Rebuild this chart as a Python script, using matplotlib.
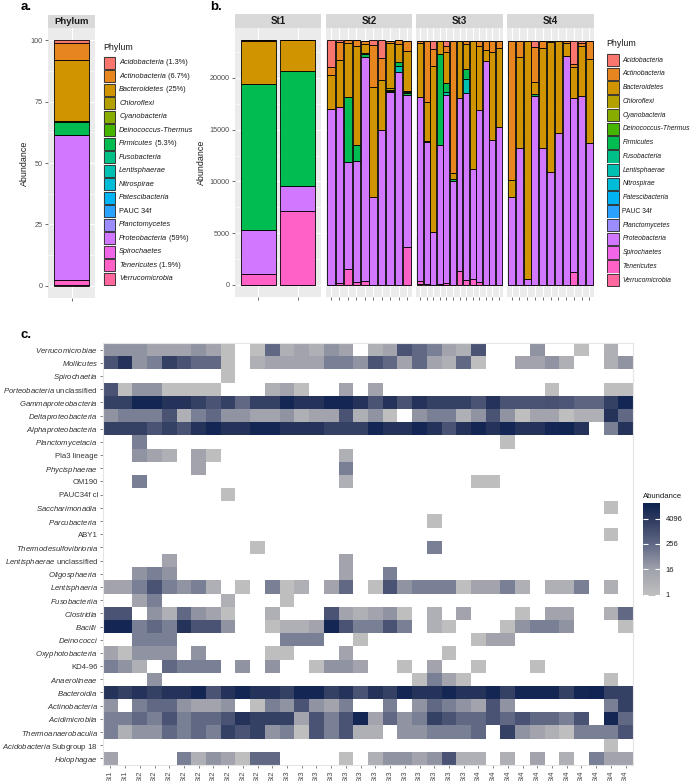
import numpy as np
import matplotlib
matplotlib.use('Agg')
import matplotlib.pyplot as plt
from matplotlib.colors import LogNorm, LinearSegmentedColormap
from matplotlib.patches import Rectangle

plt.rcParams['font.family'] = ['Liberation Sans', 'DejaVu Sans']
plt.rcParams['mathtext.fontset'] = 'custom'
plt.rcParams['mathtext.it'] = 'Liberation Sans:italic'
plt.rcParams['mathtext.rm'] = 'Liberation Sans'
plt.rcParams['mathtext.bf'] = 'Liberation Sans:bold'

W, H = 694, 781

# ---------------- data ----------------
phyla = ['Acidobacteria', 'Actinobacteria', 'Bacteroidetes', 'Chloroflexi', 'Cyanobacteria',
         'Deinococcus-Thermus', 'Firmicutes', 'Fusobacteria', 'Lentisphaerae', 'Nitrospirae',
         'Patescibacteria', 'PAUC 34f', 'Planctomycetes', 'Proteobacteria', 'Spirochaetes',
         'Tenericutes', 'Verrucomicrobia']

# panel a: mean relative abundance (%)
pct_a = [1.3, 6.7, 25, 0.05, 0.02, 0.1, 5.3, 0.05, 0.15, 0.02, 0.02, 0.02, 0.1, 59, 0.02, 1.9, 0.3]
pct_text = {'Acidobacteria': '1.3%', 'Actinobacteria': '6.7%', 'Bacteroidetes': '25%',
            'Firmicutes': '5.3%', 'Proteobacteria': '59%', 'Tenericutes': '1.9%'}

# panel b: reads per sample (St1 x2, St2 x10, St3 x13, St4 x11)
stations = ['St1', 'St2', 'St3', 'St4']
station_sizes = [2, 10, 13, 11]

acido_b = [0, 0, 2572, 160, 0, 0, 0, 483, 1708, 0, 0, 0,
           0, 0, 837, 0, 483, 0, 0, 0, 0, 0, 0, 0, 0,
           0, 0, 0, 644, 0, 0, 0, 0, 2286, 193, 0]
actino_b = [100, 0, 745, 1780, 260, 580, 322, 4030, 2095, 258, 354, 967,
            190, 5893, 1578, 0, 644, 12751, 0, 322, 0, 515, 902, 1127, 741,
            13460, 1610, 0, 3381, 741, 161, 0, 193, 290, 290, 1771]
bactero_b = [4090, 2934, 3317, 4513, 5254, 9573, 838, 10637, 4900, 4352, 1740, 3868,
             5280, 3703, 16036, 1320, 2930, 644, 5571, 2447, 12429, 6182, 1030, 8469, 7631,
             1610, 8791, 23055, 1127, 9660, 12558, 8952, 1288, 2995, 4830, 8082]
chloro_b = [0, 0, 0, 0, 0, 0, 0, 0, 0, 150, 0, 100,
            0, 0, 0, 0, 0, 0, 0, 0, 0, 0, 0, 0, 0,
            0, 0, 0, 0, 0, 0, 0, 0, 0, 0, 0]
deino_b = [0, 0, 0, 0, 0, 0, 150, 0, 0, 100, 0, 100,
           0, 0, 0, 0, 0, 0, 0, 0, 0, 0, 0, 0, 0,
           0, 0, 0, 0, 0, 0, 0, 0, 0, 0, 0]
firmi_b = [14120, 11189, 0, 0, 6254, 1483, 290, 0, 0, 150, 354, 200,
           0, 100, 0, 8758, 869, 161, 0, 966, 0, 0, 0, 0, 0,
           0, 0, 0, 161, 0, 0, 0, 0, 0, 0, 0]
lenti_b = [0, 0, 0, 0, 0, 0, 0, 0, 0, 0, 612, 0,
           0, 0, 0, 0, 322, 0, 0, 1352, 0, 0, 0, 0, 0,
           0, 0, 0, 0, 0, 0, 0, 0, 0, 0, 0]
proteo_b = [4285, 2350, 16990, 17020, 10347, 11765, 21693, 8478, 14923, 18598, 20565, 14666,
            17807, 13750, 5152, 13427, 18193, 10046, 16744, 18096, 10626, 16680, 21671, 14007, 15231,
            8533, 13202, 547, 18290, 13202, 10884, 14651, 22121, 16841, 18290, 13749]
teneri_b = [1035, 7157, 0, 160, 1515, 225, 322, 0, 0, 0, 0, 3643,
            200, 0, 0, 100, 160, 0, 1288, 419, 547, 225, 0, 0, 0,
            0, 0, 0, 0, 0, 0, 0, 0, 1191, 0, 0]
verru_b = [0, 0, 0, 0, 0, 0, 0, 0, 0, 0, 0, 0,
           120, 100, 0, 0, 0, 0, 0, 0, 0, 0, 0, 0, 0,
           0, 0, 0, 0, 0, 0, 0, 0, 0, 0, 0]

# panel c: class-level abundance per sample
heat_samples = ['St1'] * 2 + ['St2'] * 10 + ['St3'] * 13 + ['St4'] * 11
heat_rows = [r'$\mathit{Verrucomicrobiae}$', r'$\mathit{Mollicutes}$', r'$\mathit{Spirochaetia}$',
             r'$\mathit{Porteobacteria}$ unclassified', r'$\mathit{Gammaproteobacteria}$',
             r'$\mathit{Deltaproteobacteria}$', r'$\mathit{Alphaproteobacteria}$',
             r'$\mathit{Planctomycetacia}$', 'Pla3 lineage', r'$\mathit{Phycisphaerae}$', 'OM190',
             'PAUC34f cl', r'$\mathit{Saccharimonadia}$', r'$\mathit{Parcubacteria}$', 'ABY1',
             r'$\mathit{Thermodesulfovibrionia}$', r'$\mathit{Lentisphaerae}$ unclassified',
             r'$\mathit{Oligosphaeria}$', r'$\mathit{Lentisphaeria}$', r'$\mathit{Fusobacteriia}$',
             r'$\mathit{Clostridia}$', r'$\mathit{Bacilli}$', r'$\mathit{Deinococci}$',
             r'$\mathit{Oxyphotobacteria}$', 'KD4-96', r'$\mathit{Anaerolineae}$',
             r'$\mathit{Bacteroidia}$', r'$\mathit{Actinobacteria}$', r'$\mathit{Acidimicrobiia}$',
             r'$\mathit{Thermoanaerobaculia}$', r'$\mathit{Acidobacteria}$ Subgroup 18',
             r'$\mathit{Holophagae}$']
heat_values = [
    [30, 30, 30, 12, 12, 12, 30, 12, 1, 0, 1, 250, 4, 12, 4, 30, 12, 0, 4, 12, 800, 250, 80, 12, 4, 800, 0, 0, 0, 30, 0, 0, 1, 0, 4, 0],
    [800, 6000, 30, 80, 2500, 800, 250, 250, 1, 0, 4, 12, 12, 12, 12, 80, 80, 30, 800, 250, 12, 250, 12, 4, 250, 1, 0, 0, 12, 12, 30, 4, 0, 0, 4, 30],
    [0, 0, 0, 0, 0, 0, 0, 0, 1, 0, 0, 0, 0, 0, 0, 0, 0, 0, 0, 0, 0, 0, 0, 0, 0, 0, 0, 0, 0, 0, 0, 0, 0, 0, 0, 0],
    [800, 1, 30, 30, 1, 1, 1, 1, 0, 0, 0, 4, 12, 1, 0, 0, 12, 0, 12, 0, 0, 0, 0, 0, 0, 0, 0, 0, 0, 0, 1, 0, 0, 0, 1, 1],
    [2500, 2500, 14000, 14000, 6000, 6000, 2500, 800, 2500, 250, 2500, 2500, 14000, 6000, 6000, 14000, 14000, 6000, 800, 6000, 800, 6000, 2500, 2500, 2500, 800, 6000, 800, 800, 800, 900, 700, 300, 300, 2500, 14000],
    [30, 80, 80, 80, 800, 4, 80, 250, 30, 30, 12, 12, 30, 4, 12, 12, 800, 4, 30, 1, 0, 30, 80, 80, 4, 30, 800, 30, 1, 12, 12, 1, 4, 4, 6000, 250],
    [2500, 2500, 2500, 800, 2500, 800, 6000, 14000, 6000, 6000, 14000, 14000, 6000, 6000, 6000, 2500, 2500, 2500, 14000, 6000, 6000, 14000, 6000, 800, 6000, 14000, 6000, 14000, 6000, 6000, 14000, 16000, 6000, 0, 80, 6000],
    [0, 0, 80, 0, 0, 0, 0, 0, 0, 0, 0, 0, 0, 0, 0, 0, 0, 0, 0, 0, 0, 0, 0, 0, 0, 0, 0, 1, 0, 0, 0, 0, 0, 0, 0, 0],
    [0, 0, 30, 12, 4, 0, 12, 1, 0, 0, 0, 0, 0, 0, 0, 0, 4, 0, 0, 0, 0, 0, 0, 0, 0, 0, 0, 0, 0, 0, 0, 0, 0, 0, 0, 0],
    [0, 0, 0, 0, 0, 0, 12, 0, 0, 0, 0, 0, 0, 0, 0, 0, 80, 0, 0, 0, 0, 0, 0, 0, 0, 0, 0, 0, 0, 0, 0, 0, 0, 0, 0, 0],
    [0, 0, 80, 0, 0, 0, 0, 0, 0, 0, 0, 0, 0, 0, 0, 0, 4, 0, 0, 0, 0, 0, 0, 0, 0, 1, 1, 0, 0, 0, 0, 0, 0, 0, 0, 0],
    [0, 0, 0, 0, 0, 0, 0, 0, 1, 0, 0, 0, 0, 0, 0, 0, 0, 0, 0, 0, 0, 0, 0, 0, 0, 0, 0, 0, 0, 0, 0, 0, 0, 0, 0, 0],
    [0, 0, 0, 0, 0, 0, 0, 0, 0, 0, 0, 0, 0, 0, 0, 0, 0, 0, 0, 0, 0, 0, 0, 0, 0, 0, 0, 0, 0, 0, 0, 0, 0, 0, 1, 0],
    [0, 0, 0, 0, 0, 0, 0, 0, 0, 0, 0, 0, 0, 0, 0, 0, 0, 0, 0, 0, 0, 0, 1, 0, 0, 0, 0, 0, 0, 0, 0, 0, 0, 0, 0, 0],
    [0, 0, 0, 0, 0, 0, 0, 0, 0, 0, 0, 0, 0, 0, 0, 0, 0, 0, 0, 0, 0, 0, 0, 0, 0, 0, 0, 0, 0, 0, 0, 0, 0, 0, 1, 0],
    [0, 0, 0, 0, 0, 0, 0, 0, 0, 0, 1, 0, 0, 0, 0, 0, 0, 0, 0, 0, 0, 0, 80, 0, 0, 0, 0, 0, 0, 0, 0, 0, 0, 0, 0, 0],
    [0, 0, 0, 0, 12, 0, 0, 0, 0, 0, 0, 0, 0, 0, 0, 0, 12, 0, 0, 0, 0, 0, 0, 0, 0, 0, 0, 0, 0, 0, 0, 0, 0, 0, 0, 0],
    [0, 0, 30, 80, 30, 0, 0, 0, 0, 0, 0, 0, 0, 0, 0, 0, 12, 0, 0, 80, 0, 0, 0, 0, 0, 0, 0, 0, 0, 0, 0, 0, 0, 0, 0, 0],
    [12, 12, 80, 800, 80, 30, 80, 4, 0, 1, 0, 80, 1, 4, 0, 12, 250, 0, 1, 800, 30, 80, 80, 80, 1, 12, 12, 80, 4, 0, 4, 4, 80, 0, 4, 0],
    [0, 0, 12, 80, 0, 0, 0, 0, 4, 0, 0, 0, 1, 0, 0, 0, 0, 0, 0, 0, 0, 0, 0, 0, 0, 0, 0, 0, 0, 0, 0, 0, 0, 0, 0, 0],
    [800, 800, 0, 30, 4, 250, 30, 12, 1, 0, 0, 4, 0, 0, 0, 800, 12, 4, 12, 30, 1, 0, 4, 0, 12, 0, 0, 0, 1, 0, 12, 12, 0, 0, 4, 250],
    [14000, 14000, 80, 250, 80, 6000, 800, 800, 30, 0, 0, 1, 4, 4, 12, 14000, 800, 80, 80, 800, 80, 0, 4, 1, 0, 0, 0, 1, 30, 80, 80, 30, 0, 0, 0, 1],
    [0, 0, 80, 80, 80, 0, 0, 0, 0, 0, 0, 0, 80, 80, 80, 0, 0, 1, 0, 0, 0, 0, 0, 0, 0, 1, 12, 12, 0, 0, 0, 0, 0, 0, 0, 0],
    [12, 1, 30, 30, 30, 0, 30, 0, 0, 0, 0, 1, 1, 0, 0, 0, 12, 0, 0, 0, 0, 0, 0, 1, 0, 0, 0, 0, 0, 0, 0, 0, 0, 0, 0, 0],
    [80, 30, 4, 0, 250, 80, 80, 80, 0, 30, 0, 30, 0, 0, 1, 30, 30, 12, 0, 0, 1, 0, 12, 0, 0, 1, 0, 0, 0, 1, 0, 0, 0, 0, 0, 0],
    [0, 0, 0, 30, 0, 0, 0, 0, 0, 0, 0, 0, 0, 0, 0, 0, 0, 0, 0, 0, 0, 1, 80, 12, 1, 0, 0, 0, 0, 0, 0, 0, 0, 0, 1, 0],
    [6000, 2500, 6000, 2500, 6000, 6000, 14000, 800, 6000, 14000, 6000, 6000, 2500, 14000, 14000, 2500, 6000, 800, 6000, 2500, 14000, 6000, 6000, 14000, 6000, 6000, 14000, 2500, 14000, 14000, 14000, 2500, 14000, 18000, 2500, 2500],
    [30, 0, 80, 250, 250, 30, 12, 12, 30, 0, 1, 80, 30, 800, 30, 12, 80, 0, 0, 80, 0, 30, 250, 80, 30, 12, 800, 30, 0, 0, 0, 0, 0, 0, 80, 2500],
    [80, 80, 250, 80, 800, 80, 250, 250, 800, 6000, 2500, 2500, 2500, 12, 800, 80, 800, 14000, 12, 250, 30, 80, 2500, 800, 250, 250, 800, 250, 800, 250, 250, 80, 800, 0, 14000, 250],
    [80, 4, 30, 30, 250, 80, 250, 80, 2500, 800, 2500, 30, 80, 1, 800, 80, 800, 4, 4, 0, 30, 30, 80, 80, 80, 250, 0, 2500, 30, 12, 4, 1, 80, 80, 80, 800],
    [0, 0, 0, 0, 0, 0, 0, 0, 0, 0, 0, 0, 0, 0, 0, 0, 0, 0, 0, 0, 0, 0, 0, 0, 0, 0, 0, 0, 0, 0, 0, 0, 0, 0, 1, 0],
    [12, 0, 0, 0, 0, 80, 4, 30, 12, 1, 250, 250, 0, 0, 0, 0, 1, 0, 4, 30, 30, 12, 30, 800, 4, 4, 0, 4, 0, 12, 0, 4, 0, 80, 12, 12],
]


# ---------------- helpers ----------------
def hue_pal(n, c=100, l=65):
    # ggplot2 default discrete palette (hcl, polar LUV)
    out = []
    for i in range(n):
        h = np.deg2rad(15 + 360 * i / n)
        U, V = c * np.cos(h), c * np.sin(h)
        Y = 100 * ((l + 16) / 116) ** 3
        u = U / (13 * l) + 0.1978398
        v = V / (13 * l) + 0.4683363
        X = 9 * Y * u / (4 * v)
        Z = -X / 3 - 5 * Y + 3 * Y / v
        rgb = np.array([3.240479 * X - 1.537150 * Y - 0.498535 * Z,
                        -0.969256 * X + 1.875992 * Y + 0.041556 * Z,
                        0.055648 * X - 0.204043 * Y + 1.057311 * Z]) / 100
        rgb = np.where(rgb > 0.00304, 1.055 * np.abs(rgb) ** (1 / 2.4) - 0.055, 12.92 * rgb)
        out.append(tuple(np.clip(rgb, 0, 1)))
    return out


def px_axes(l, t, r, b, **kw):
    return fig.add_axes([l / W, 1 - b / H, (r - l) / W, (b - t) / H], **kw)


def gg_panel(ax, major, minor, xs):
    ax.set_facecolor('#EBEBEB')
    for y in minor:
        ax.axhline(y, color='white', lw=0.4, zorder=0.5)
    for y in major:
        ax.axhline(y, color='white', lw=0.8, zorder=0.5)
    for x in xs:
        ax.axvline(x, color='white', lw=0.8, zorder=0.5)
    for s in ax.spines.values():
        s.set_visible(False)
    ax.tick_params(axis='both', length=2.2, width=0.5, color='#333333',
                   labelsize=5.2, labelcolor='#4D4D4D', pad=1.5)


def strip(l, t, r, b, label, size):
    sa = px_axes(l, t, r, b)
    sa.set_facecolor('#D9D9D9')
    sa.set_xticks([])
    sa.set_yticks([])
    for s in sa.spines.values():
        s.set_visible(False)
    sa.text(0.5, 0.5, label, ha='center', va='center', fontsize=size,
            fontweight='bold', color='#1A1A1A', transform=sa.transAxes)


def legend(x0, y_title, y0, kw, kh, names, pcts, size):
    ov.text(x0, y_title, 'Phylum', fontsize=6.4, va='center', ha='left', color='#1A1A1A')
    for i, (name, col) in enumerate(zip(names, colors)):
        y = y0 + i * kh
        ov.add_patch(Rectangle((x0, y), kw, kh, facecolor='#F2F2F2', edgecolor='none'))
        ov.add_patch(Rectangle((x0 + 0.6, y + 0.6), kw - 1.2, kh - 1.2, facecolor=col,
                               edgecolor='#222222', lw=0.6))
        style = 'normal' if name == 'PAUC 34f' else 'italic'
        t = ov.text(x0 + kw + 3.2, y + kh / 2, name, fontsize=size, va='center', ha='left',
                    color='#1A1A1A', fontstyle=style)
        if pcts.get(name):
            ov.annotate(' (' + pcts[name] + ')', xycoords=t, xy=(1, 0.5), va='center',
                        ha='left', fontsize=size, color='#1A1A1A')


colors = hue_pal(len(phyla))
fig = plt.figure(figsize=(W / 100, H / 100), dpi=100)

# ---------------- panel a ----------------
axA = px_axes(48, 28, 95, 298)
gg_panel(axA, [0, 25, 50, 75, 100], [12.5, 37.5, 62.5, 87.5], [1])
axA.set_xlim(0.4, 1.6)
axA.set_ylim(-5, 105)
bottom = 0
for name, col, val in reversed(list(zip(phyla, colors, pct_a))):
    axA.bar(1, val, bottom=bottom, width=0.9, color=col, edgecolor='black', lw=0.6, zorder=2)
    bottom += val
axA.set_yticks([0, 25, 50, 75, 100])
axA.set_xticks([1])
axA.set_xticklabels([''])
axA.set_ylabel('Abundance', fontsize=6.4, color='#1A1A1A', labelpad=1)
strip(48, 15, 95, 28, 'Phylum', 6.8)

# ---------------- panel b ----------------
abund_b = {'Acidobacteria': acido_b, 'Actinobacteria': actino_b, 'Bacteroidetes': bactero_b,
           'Chloroflexi': chloro_b, 'Deinococcus-Thermus': deino_b, 'Firmicutes': firmi_b,
           'Lentisphaerae': lenti_b, 'Proteobacteria': proteo_b, 'Tenericutes': teneri_b,
           'Verrucomicrobia': verru_b}
facet_px = [(235, 321), (326, 412), (416, 503), (507, 594)]
start = 0
for k, (st, n, (l, r)) in enumerate(zip(stations, station_sizes, facet_px)):
    ax = px_axes(l, 28, r, 297)
    xs = np.arange(1, n + 1)
    gg_panel(ax, [0, 5000, 10000, 15000, 20000], [2500, 7500, 12500, 17500, 22500], xs)
    ax.set_xlim(0.4, n + 0.6)
    ax.set_ylim(-1182, 24832)
    bottom = np.zeros(n)
    for name, col in reversed(list(zip(phyla, colors))):
        if name not in abund_b:
            continue
        vals = np.array(abund_b[name][start:start + n], dtype=float)
        ax.bar(xs, vals, bottom=bottom, width=0.9, color=col, edgecolor='black', lw=0.6, zorder=2)
        bottom += vals
    ax.set_xticks(xs)
    ax.set_xticklabels([''] * n)
    ax.set_yticks([0, 5000, 10000, 15000, 20000])
    if k == 0:
        ax.set_ylabel('Abundance', fontsize=6.4, color='#1A1A1A', labelpad=3)
    else:
        ax.tick_params(axis='y', left=False, labelleft=False)
    strip(l, 14, r, 28, st, 7.0)
    start += n

# ---------------- panel c ----------------
M = np.ma.masked_equal(np.array(heat_values, dtype=float), 0)
cmap = LinearSegmentedColormap.from_list(
    'abund', [(0.0, '#C0C0C0'), (0.29, '#9EA0AB'), (0.56, '#5F6784'), (0.83, '#2D395E'), (1.0, '#0B2150')])
cmap.set_bad('white')
norm = LogNorm(vmin=0.85, vmax=22500)
axC = px_axes(103, 343, 633, 765)
mesh = axC.pcolormesh(np.arange(M.shape[1] + 1), np.arange(M.shape[0] + 1), M,
                      cmap=cmap, norm=norm)
axC.set_xlim(0, M.shape[1])
axC.set_ylim(M.shape[0], 0)
axC.set_xticks(np.arange(M.shape[1]) + 0.5)
axC.set_xticklabels(heat_samples, rotation=90, fontsize=5.5, color='#4D4D4D')
axC.set_yticks(np.arange(M.shape[0]) + 0.5)
axC.set_yticklabels(heat_rows, fontsize=5.6, color='#333333')
axC.tick_params(axis='both', length=2.2, width=0.5, color='#555555', pad=1.5)
for s in axC.spines.values():
    s.set_color('#E5E5E5')
    s.set_linewidth(0.8)

cax = px_axes(643, 503, 660, 596)
cb = fig.colorbar(mesh, cax=cax, ticks=[1, 16, 256, 4096])
cb.ax.minorticks_off()
cb.ax.set_yticklabels(['1', '16', '256', '4096'])
cb.outline.set_visible(False)
cax.tick_params(which='both', direction='in', color='white', length=3.5, width=0.8,
                left=True, right=True, labelsize=5.5, labelcolor='#1A1A1A', pad=4)

# ---------------- overlay: legends and panel letters ----------------
ov = fig.add_axes([0, 0, 1, 1], facecolor='none')
ov.set_xlim(0, W)
ov.set_ylim(H, 0)
ov.axis('off')

legend(103.3, 47, 56, 12.7, 13.5, phyla, pct_text, 5.3)
legend(606.7, 43, 53.3, 12.6, 13.75, phyla, {}, 4.9)
ov.text(643, 497, 'Abundance', fontsize=5.6, va='center', ha='left', color='#1A1A1A')

ov.text(21, 7, 'a.', fontsize=9.5, fontweight='bold', va='center')
ov.text(210, 7, 'b.', fontsize=9.5, fontweight='bold', va='center')
ov.text(21, 335, 'c.', fontsize=9.5, fontweight='bold', va='center')

fig.savefig('out.png', dpi=100)
